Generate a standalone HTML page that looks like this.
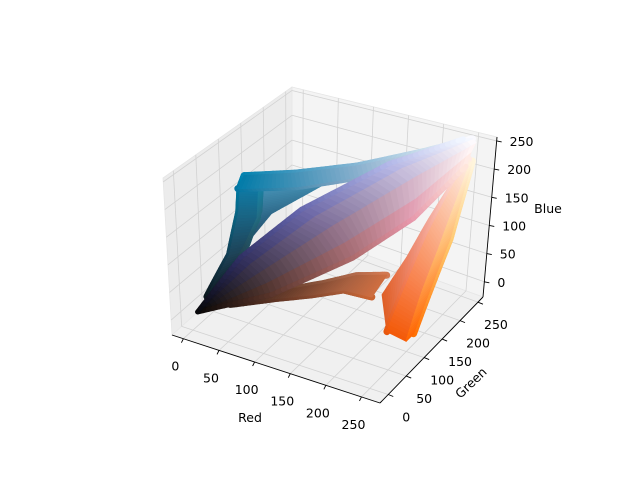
<!DOCTYPE html>
<html><head><meta charset="utf-8"><style>
body{margin:0;background:#fff}
svg{display:block;font-family:"DejaVu Sans","Liberation Sans",sans-serif}
</style></head><body>
<svg id="chart" width="640" height="480" viewBox="0 0 640 480">
<rect width="640" height="480" fill="#fff"/>
<g id="panes"></g>
<g id="grid"></g>
<g id="data"></g>
<g id="axes"></g>
<g id="labels" font-size="12.5" fill="#000"></g>
<text x="250" y="422" font-size="12.5" text-anchor="middle">Red</text>
<text x="474" y="386" font-size="12.5" text-anchor="middle" transform="rotate(-44 474 386)">Green</text>
<text x="548" y="213" font-size="12.5" text-anchor="middle">Blue</text>
</svg>
<script>
const redTicks=[0,50,100,150,200,250];
const greenTicks=[0,50,100,150,200,250];
const blueTicks=[0,50,100,150,200,250];
const redLim=[-16,276];
const greenLim=[-23,264];
const blueLim=[-27,257];
// pixel branches of the image (each a sequence of [r,g,b] pixel values)
const bandBlue=[[5,5,5],[45,45,95],[100,100,170],[175,180,230],[240,245,255]];
const bandViolet=[[5,5,5],[55,50,85],[115,105,160],[190,185,225],[250,250,255]];
const bandGray=[[5,5,5],[65,55,70],[135,115,145],[205,190,210],[255,250,250]];
const bandRose=[[5,5,5],[75,55,55],[155,110,125],[220,170,190],[255,240,240]];
const bandPink=[[5,5,5],[85,50,40],[170,105,105],[230,150,170],[255,230,220]];
const cyanRise=[[10,20,25],[20,60,80],[10,100,130],[0,120,160],[0,130,175]];
const cyanRise2=[[15,30,40],[40,70,90],[40,105,140],[30,125,170],[30,135,185]];
const cyanRise3=[[20,40,40],[30,80,90],[30,110,120],[20,130,150],[20,140,165]];
const cyanMid=[[10,15,20],[35,55,90],[60,95,150],[110,145,195],[200,215,240]];
const cyanPlateau=[[0,130,175],[60,150,190],[130,180,210],[200,220,235],[250,250,255]];
const cyanPlateau2=[[0,115,160],[70,140,175],[140,170,200],[210,215,230],[250,248,250]];
const orangeColumn=[[255,90,0],[255,130,60],[255,170,110],[255,210,170],[255,240,220]];
const orangeColumn2=[[230,85,10],[240,120,80],[245,160,140],[250,200,190],[255,235,230]];
const orangeColumn3=[[255,110,0],[255,160,60],[255,200,110],[255,225,170],[255,245,220]];
const orangeInner=[[215,100,60],[230,135,110],[240,170,160],[248,205,200],[255,235,230]];
const brownArm=[[40,25,20],[90,50,35],[130,70,45],[165,90,55],[200,100,50]];
const brownArm2=[[40,30,25],[95,60,45],[140,85,60],[175,105,75],[210,120,80]];
const fills=[[cyanRise,cyanRise2],[cyanRise2,cyanRise3],[cyanPlateau,cyanPlateau2],[brownArm,brownArm2],[orangeColumn,orangeColumn2],[orangeColumn,orangeColumn3],[orangeColumn2,orangeInner],[bandPink,bandRose],[bandRose,bandGray],[bandGray,bandViolet],[bandViolet,bandBlue]];

const NS="http://www.w3.org/2000/svg";
const B0=[172,335],B1=[380,403],B2=[483,297],B3=[292,228];
const T0=[163,178],T1=[372,242],T2=[497,137],T3=[292,87];
function bil(a,b,c,d,u,v){return [a[0]*(1-u)*(1-v)+b[0]*u*(1-v)+c[0]*u*v+d[0]*(1-u)*v,a[1]*(1-u)*(1-v)+b[1]*u*(1-v)+c[1]*u*v+d[1]*(1-u)*v];}
function proj(r,g,b){
 const u=(r-redLim[0])/(redLim[1]-redLim[0]),v=(g-greenLim[0])/(greenLim[1]-greenLim[0]),w=(b-blueLim[0])/(blueLim[1]-blueLim[0]);
 const f=bil(B0,B1,B2,B3,u,v),t=bil(T0,T1,T2,T3,u,v);
 return [f[0]+(t[0]-f[0])*w,f[1]+(t[1]-f[1])*w];}
function el(tag,attrs,parent){const e=document.createElementNS(NS,tag);for(const k in attrs)e.setAttribute(k,attrs[k]);parent.appendChild(e);return e;}
const panes=document.getElementById('panes'),grid=document.getElementById('grid'),data=document.getElementById('data'),axes=document.getElementById('axes'),labels=document.getElementById('labels');
const [rl,rh]=redLim,[gl,gh]=greenLim,[bl,bh]=blueLim;
function poly(pts,fill,parent,name,stroke){const p=el('polygon',{points:pts.map(q=>q.join(',')).join(' '),fill:fill,stroke:stroke||'#e6e6e6','stroke-width':stroke?1.2:0.8,'stroke-linejoin':'round'},parent);

}
poly([proj(rl,gl,bl),proj(rl,gh,bl),proj(rl,gh,bh),proj(rl,gl,bh)],'#ececec',panes,'left-pane');
poly([proj(rl,gh,bl),proj(rh,gh,bl),proj(rh,gh,bh),proj(rl,gh,bh)],'#f4f4f4',panes,'back-pane');
poly([proj(rl,gl,bl),proj(rh,gl,bl),proj(rh,gh,bl),proj(rl,gh,bl)],'#f0f0f0',panes,'floor-pane');
function line(a,b,stroke,sw,parent,name){const l=el('line',{x1:a[0],y1:a[1],x2:b[0],y2:b[1],stroke:stroke,'stroke-width':sw},parent);

return l;}
redTicks.forEach(r=>{line(proj(r,gl,bl),proj(r,gh,bl),'#d2d2d2',0.8,grid,'red-grid');line(proj(r,gh,bl),proj(r,gh,bh),'#d2d2d2',0.8,grid,'red-grid');});
greenTicks.forEach(g=>{line(proj(rl,g,bl),proj(rh,g,bl),'#d2d2d2',0.8,grid,'green-grid');line(proj(rl,g,bl),proj(rl,g,bh),'#d2d2d2',0.8,grid,'green-grid');});
blueTicks.forEach(b=>{line(proj(rl,gl,b),proj(rl,gh,b),'#d2d2d2',0.8,grid,'blue-grid');line(proj(rl,gh,b),proj(rh,gh,b),'#d2d2d2',0.8,grid,'blue-grid');});
const lerp=(a,c,t)=>a.map((x,j)=>x+(c[j]-x)*t);
const rgb=p=>'rgb('+p.map(x=>Math.round(Math.max(0,Math.min(255,x)))).join(',')+')';
function drawBranch(br,w){
 for(let i=0;i<br.length-1;i++){const a=br[i],c=br[i+1];const N=14;
  for(let k=0;k<N;k++){const p0=lerp(a,c,k/N),p1=lerp(a,c,(k+1)/N);
   const l=line(proj(...p0),proj(...p1),rgb(p1),w,data,'pixel-branch');
   l.setAttribute('stroke-linecap','round');}}}
function drawFill(A,C){
 for(let i=0;i<A.length-1;i++){const N=14;
  for(let k=0;k<N;k++){const a0=lerp(A[i],A[i+1],k/N),a1=lerp(A[i],A[i+1],(k+1)/N),c0=lerp(C[i],C[i+1],k/N),c1=lerp(C[i],C[i+1],(k+1)/N);
   const col=rgb(lerp(a1,c1,0.5));
   poly([proj(...a0),proj(...a1),proj(...c1),proj(...c0)],col,data,'pixel-cloud',col);}}}
drawFill(cyanRise3,cyanMid);
drawBranch(cyanRise,7);drawBranch(cyanRise3,7);
drawFill(cyanRise,cyanRise2);drawFill(cyanRise2,cyanRise3);
drawBranch(cyanPlateau,7);drawBranch(cyanPlateau2,7);
drawFill(cyanPlateau,cyanPlateau2);
drawBranch(brownArm,7);drawBranch(brownArm2,7);drawFill(brownArm,brownArm2);
drawFill(orangeColumn2,orangeInner);
drawBranch(orangeColumn3,7);drawBranch(orangeColumn2,7);
drawFill(orangeColumn,orangeColumn2);drawFill(orangeColumn,orangeColumn3);
for(let i=7;i<fills.length;i++)drawFill(fills[i][0],fills[i][1]);
drawBranch(bandPink,5);drawBranch(bandBlue,5);
line(proj(rl,gl,bl),proj(rh,gl,bl),'#000',0.9,axes,'red-axis-line');
line(proj(rh,gl,bl),proj(rh,gh,bl),'#000',0.9,axes,'green-axis-line');
line(proj(rh,gh,bl),proj(rh,gh,bh),'#000',0.9,axes,'blue-axis-line');
redTicks.forEach(r=>{const p=proj(r,gl,bl);line(p,[p[0]-2,p[1]+4],'#000',0.9,axes,'red-tick');
 const t=el('text',{x:p[0]-8,y:p[1]+32,'text-anchor':'middle'},labels);t.textContent=r;
 
 });
greenTicks.forEach(g=>{const p=proj(rh,g,bl);line(p,[p[0]+5,p[1]+2],'#000',0.9,axes,'green-tick');
 const t=el('text',{x:p[0]+18,y:p[1]+27,'text-anchor':'middle'},labels);t.textContent=g;
 
 });
blueTicks.forEach(b=>{const p=proj(rh,gh,b);line(p,[p[0]+5,p[1]+1],'#000',0.9,axes,'blue-tick');
 const t=el('text',{x:p[0]+13,y:p[1]+5,'text-anchor':'start'},labels);t.textContent=b;
 
 });
</script>
</body></html>
